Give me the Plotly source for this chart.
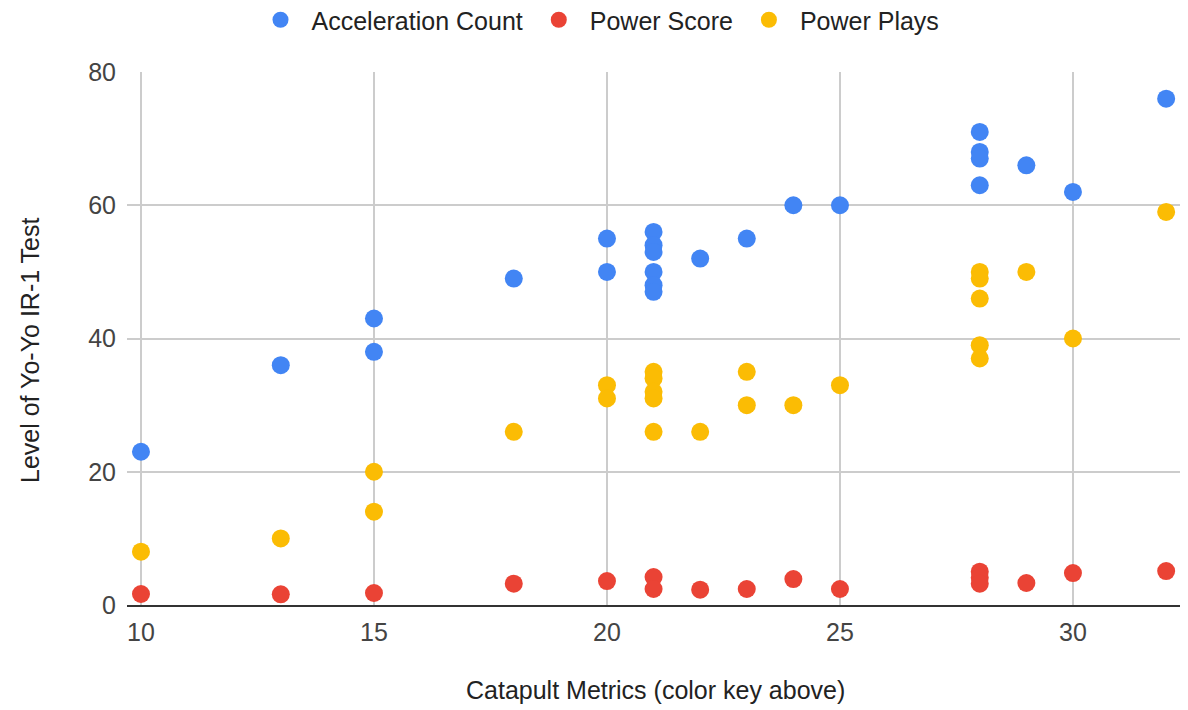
import plotly.graph_objects as go

# Catapult metric (x) and Yo-Yo IR-1 level (y) for each series
accel_x = [10, 13, 15, 15, 18, 20, 20, 21, 21, 21, 21, 21, 21, 22, 23, 24, 25, 28, 28, 28, 28, 29, 30, 32]
accel_y = [23, 36, 43, 38, 49, 55, 50, 56, 54, 53, 50, 48, 47, 52, 55, 60, 60, 71, 68, 67, 63, 66, 62, 76]

score_x = [10, 13, 15, 18, 20, 21, 21, 22, 23, 24, 25, 28, 28, 28, 29, 30, 32]
score_y = [1.65, 1.6, 1.8, 3.2, 3.6, 4.2, 2.4, 2.3, 2.4, 3.9, 2.4, 5.0, 4.1, 3.2, 3.3, 4.8, 5.1]

plays_x = [10, 13, 15, 15, 18, 20, 20, 21, 21, 21, 21, 21, 22, 23, 23, 24, 25, 28, 28, 28, 28, 28, 29, 30, 32]
plays_y = [8, 10, 20, 14, 26, 33, 31, 35, 34, 32, 31, 26, 26, 35, 30, 30, 33, 50, 49, 46, 39, 37, 50, 40, 59]

x_ticks = [10, 15, 20, 25, 30]
y_ticks = [0, 20, 40, 60, 80]

x_title = "Catapult Metrics (color key above)"
y_title = "Level of Yo-Yo IR-1 Test"

FONT = "Liberation Sans, Arial, sans-serif"
FS = 25
MS = 18
W, H = 1188, 710
OFF = 8  # page body margin offset

# plot area in screen pixels
PL, PR, PT, PB = 127, 1182, 72, 605
ml, mr, mt, mb = PL - OFF, W - (PR - OFF), PT - OFF, H - (PB - OFF)
pw, ph = (PR - PL), (PB - PT)

fig = go.Figure()
fig.add_trace(go.Scatter(x=accel_x, y=accel_y, mode="markers", name="Acceleration Count",
                         marker=dict(color="#4285F4", size=MS)))
fig.add_trace(go.Scatter(x=score_x, y=score_y, mode="markers", name="Power Score",
                         marker=dict(color="#EA4335", size=MS)))
fig.add_trace(go.Scatter(x=plays_x, y=plays_y, mode="markers", name="Power Plays",
                         marker=dict(color="#FBBC04", size=MS)))

fig.update_layout(
    width=W, height=H,
    paper_bgcolor="white", plot_bgcolor="white",
    margin=dict(l=ml, r=mr, t=mt, b=mb, autoexpand=False),
    font=dict(family=FONT, size=FS, color="#444"),
    showlegend=True,
    legend=dict(orientation="h", xref="container", yref="container",
                x=(597 - OFF) / W, xanchor="center", y=1 - (20 - OFF) / H, yanchor="middle",
                font=dict(size=FS, color="#222"), itemwidth=52,
                traceorder="normal"),
    xaxis=dict(range=[9.7, 32.34], tickvals=x_ticks, showgrid=True, gridcolor="#CCCCCC",
               gridwidth=1.5, zeroline=False, showline=True, linecolor="#333333", linewidth=2,
               ticks="", tickfont=dict(size=FS, color="#444"), automargin=False,
               ticklabelstandoff=4),
    yaxis=dict(range=[0, 80], tickvals=y_ticks, showgrid=True, gridcolor="#CCCCCC", gridwidth=1.5,
               zeroline=False, showline=False, ticks="", tickfont=dict(size=FS, color="#444"),
               automargin=False, ticklabelstandoff=10),
    annotations=[
        dict(text=x_title, xref="paper", yref="paper", x=(655 - PL) / pw, xanchor="center",
             y=-(690 - PB) / ph, yanchor="middle", showarrow=False,
             font=dict(size=FS, color="#222")),
        dict(text=y_title, xref="paper", yref="paper", textangle=-90,
             x=-(PL - 30) / pw, xanchor="center", y=(PB - 350) / ph, yanchor="middle",
             showarrow=False, font=dict(size=FS, color="#222")),
    ],
)

fig.write_html("out.html")
